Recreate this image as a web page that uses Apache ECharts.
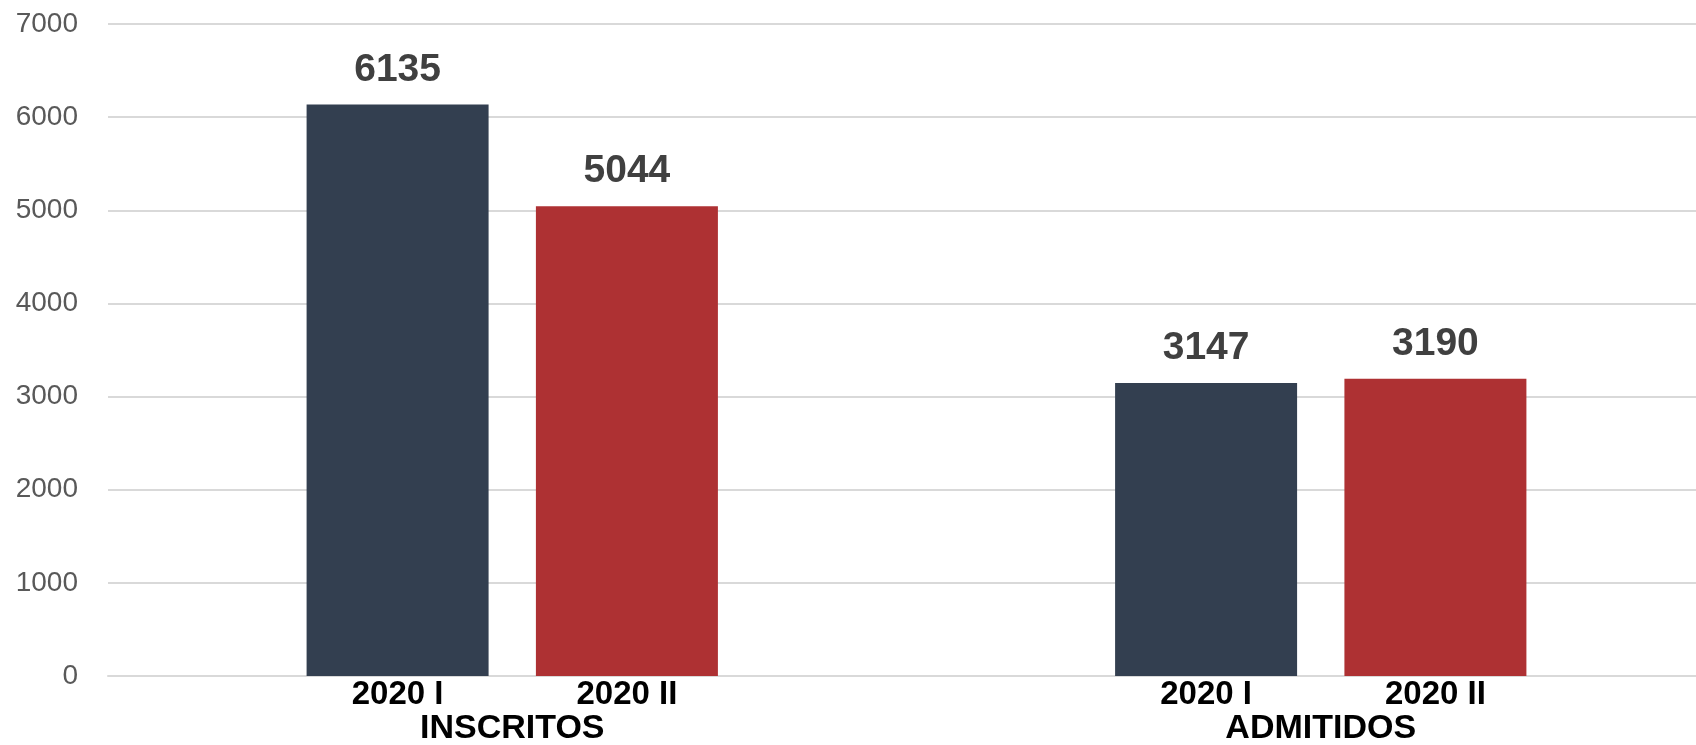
<!DOCTYPE html>
<html><head><meta charset="utf-8">
<script src="https://cdn.jsdelivr.net/npm/echarts@6/dist/echarts.min.js"></script>
<style>html,body{margin:0;padding:0;background:#fff}#c{width:1696px;height:745px}</style>
</head><body><div id="c"></div>
<script>
const categories = ["INSCRITOS", "ADMITIDOS"];
const seriesNames = ["2020 I", "2020 II"];
const values2020I = [6135, 3147];
const values2020II = [5044, 3190];
const yTicks = [0, 1000, 2000, 3000, 4000, 5000, 6000, 7000];
const colors = ["#333F50", "#AE3133"];

const FONT = "'Liberation Sans', Arial, sans-serif";
const seriesData = [values2020I, values2020II];

const valueSeries = seriesNames.map((n, i) => ({
  name: n, type: 'bar', xAxisIndex: 0, data: seriesData[i],
  barWidth: 182, barGap: '26%',
  itemStyle: { color: colors[i] },
  label: { show: true, position: 'top', distance: 15, color: '#404040',
           fontFamily: FONT, fontWeight: 'bold', fontSize: 39 }
}));
const nameSeries = seriesNames.map((n, i) => ({
  name: n + ' label', type: 'bar', xAxisIndex: 1, data: seriesData[i],
  barWidth: 182, barGap: '26%', silent: true,
  itemStyle: { color: 'rgba(0,0,0,0)' },
  label: { show: true, position: 'bottom', distance: 2, formatter: () => n,
           color: '#000', fontFamily: FONT, fontWeight: 'bold', fontSize: 33 }
}));

const chart = echarts.init(document.getElementById('c'));
chart.setOption({
  animation: false,
  grid: { left: 108, right: -29, top: 24, bottom: 69, containLabel: false, outerBoundsMode: 'none' },
  xAxis: [
    { type: 'category', data: categories,
      axisLine: { show: true, lineStyle: { color: '#D9D9D9', width: 2 } },
      axisTick: { show: false },
      axisLabel: { margin: 36, color: '#000', fontFamily: FONT, fontWeight: 'bold', fontSize: 34 } },
    { type: 'category', data: categories, show: false, position: 'bottom' }
  ],
  yAxis: { type: 'value', min: yTicks[0], max: yTicks[yTicks.length - 1], interval: 1000,
    axisLine: { show: false }, axisTick: { show: false },
    splitLine: { lineStyle: { color: '#D9D9D9', width: 2 } },
    axisLabel: { margin: 30, color: '#595959', fontFamily: FONT, fontSize: 28,
                 formatter: v => String(v) } },
  series: [...valueSeries, ...nameSeries]
});
</script></body></html>
